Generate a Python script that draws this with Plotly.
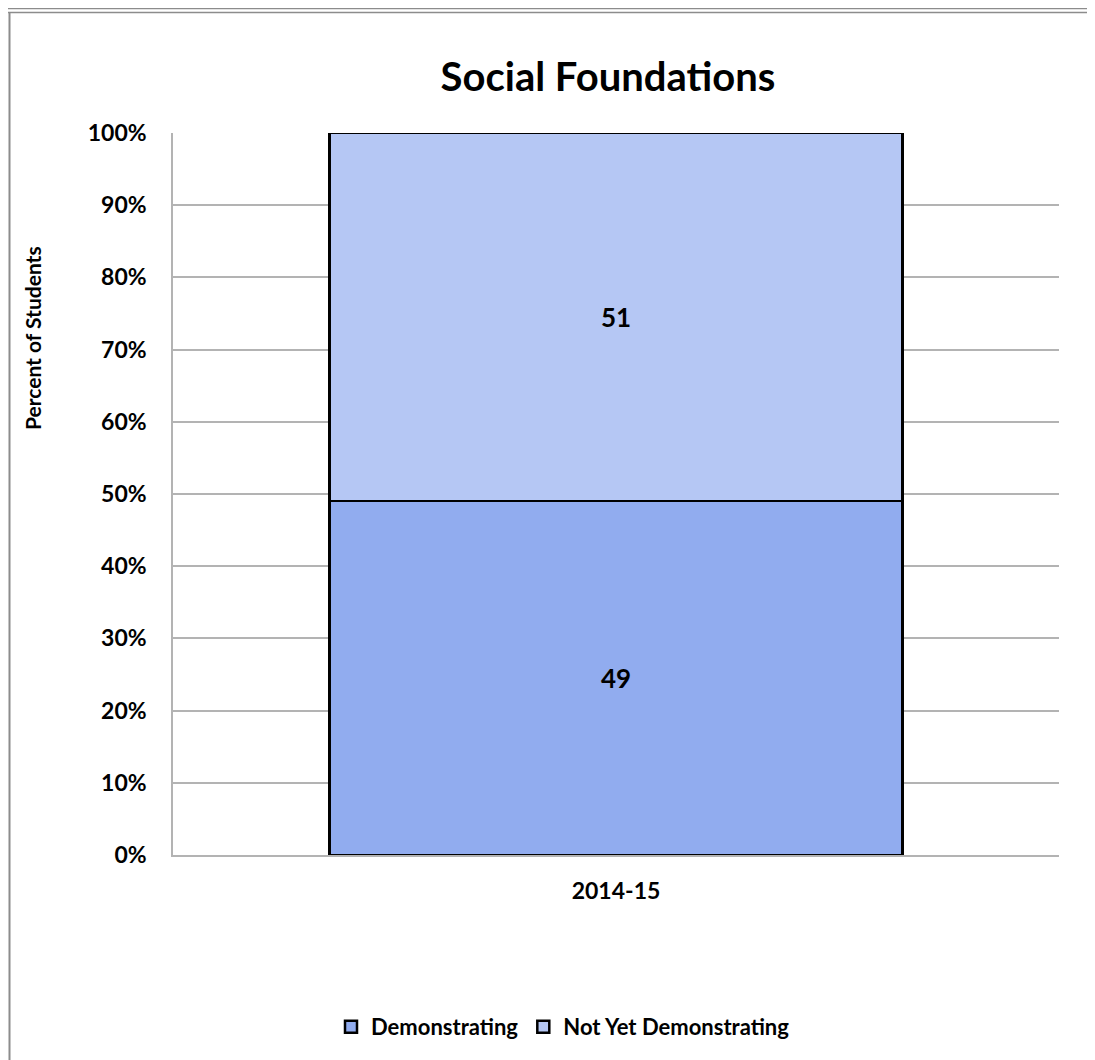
import plotly.graph_objects as go

years = ["2014-15"]
demonstrating = [49]
not_yet = [51]
y_ticks = [0, 10, 20, 30, 40, 50, 60, 70, 80, 90, 100]
y_tick_labels = [f"{v}%" for v in y_ticks]

FONT = "Lato, Open Sans, sans-serif"
# page has an 8px body margin; plot area in page px: x 173..1059, y 133..855
OFF = 8

fig = go.Figure()
fig.add_trace(go.Bar(x=years, y=demonstrating, name="<b>Demonstrating</b>",
                     marker_color="#91ACEF", marker_line_color="black", marker_line_width=2.5,
                     text=[f"<b>{v}</b>" for v in demonstrating], textposition="inside",
                     insidetextanchor="middle", textangle=0,
                     textfont=dict(size=26, color="black", family=FONT)))
fig.add_trace(go.Bar(x=years, y=not_yet, name="<b>Not Yet Demonstrating</b>",
                     marker_color="#B5C7F4", marker_line_color="black", marker_line_width=2.5,
                     text=[f"<b>{v}</b>" for v in not_yet], textposition="inside",
                     insidetextanchor="middle", textangle=0,
                     textfont=dict(size=26, color="black", family=FONT)))

fig.update_layout(
    barmode="stack", bargap=0.353,
    width=1095, height=1060,
    margin=dict(l=173 - OFF, r=1095 - 1059 + OFF, t=133 - OFF, b=1060 - 855 + OFF),
    paper_bgcolor="white", plot_bgcolor="white",
    font=dict(family=FONT, color="black"),
    title=dict(text="<b>Social Foundations</b>", x=(608 - 173) / 886, xref="paper", xanchor="center",
               y=1 - (77 - OFF) / 1060, yanchor="middle", font=dict(size=40)),
    legend=dict(orientation="h", x=(563 - 173) / 886, xanchor="center", y=(855 - 1027) / 722,
                yanchor="middle", font=dict(size=22), traceorder="normal", itemwidth=30),
    showlegend=True,
)
fig.update_yaxes(range=[0, 100], tickvals=y_ticks, ticktext=[f"<b>{t}</b>" for t in y_tick_labels],
                 tickfont=dict(size=23), showgrid=True, gridcolor="#b3b3b3", gridwidth=1.5,
                 showline=True, linecolor="#b3b3b3", linewidth=1.5, ticklabelstandoff=20, zeroline=False)
fig.update_xaxes(tickvals=years, ticktext=[f"<b>{y}</b>" for y in years], tickfont=dict(size=23),
                 showline=True, linecolor="#b3b3b3", linewidth=1.5, ticklabelstandoff=15)

fig.add_annotation(text="<b>Percent of Students</b>", textangle=-90, xref="paper", yref="paper",
                   x=(32 - 173) / 886, y=(855 - 338) / 722, showarrow=False, font=dict(size=21),
                   xanchor="center", yanchor="middle")

# outer frame like the pasted chart border
for py in [OFF + 0.5, OFF + 4.5]:
    yy = (855 - py) / 722
    fig.add_shape(type="line", xref="paper", yref="paper", x0=-0.2, x1=1.1, y0=yy, y1=yy,
                  line=dict(color="#8c8c8c", width=1.5))
fig.add_shape(type="line", xref="paper", yref="paper", x0=(9 + 0.5 - 173) / 886, x1=(9 + 0.5 - 173) / 886,
              y0=(855 - OFF - 4.5) / 722, y1=-0.3, line=dict(color="#8c8c8c", width=2))

fig.write_html("out.html")
